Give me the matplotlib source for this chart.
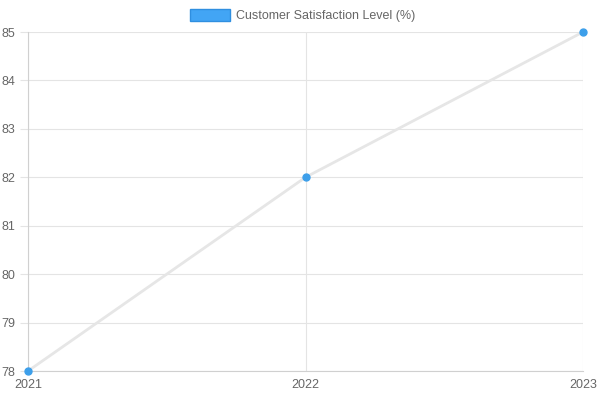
import matplotlib
matplotlib.use("Agg")
import matplotlib.pyplot as plt
import numpy as np
from matplotlib.patches import Rectangle

years = ["2021", "2022", "2023"]
satisfaction = [78, 82, 85]
label = "Customer Satisfaction Level (%)"

plt.rcParams['font.family'] = ['Liberation Sans', 'DejaVu Sans']

fig = plt.figure(figsize=(6, 4), dpi=100)
ax = fig.add_axes([28/600, 1-371/400, (583-28)/600, (371-32)/400])

x = np.arange(len(years), dtype=float)
ax.set_xlim(x[0], x[-1])
ax.set_ylim(78, 85)
ax.set_yticks(range(78, 86))
ax.set_xticks(x)
ax.set_xticklabels(years)

grid_c = "#e4e4e4"
ax.grid(True, color=grid_c, linewidth=0.8)
ax.set_axisbelow(True)
for s in ax.spines.values():
    s.set_visible(False)
ax.spines['left'].set_visible(True)
ax.spines['left'].set_color("#d0d0d0")
ax.spines['bottom'].set_visible(True)
ax.spines['bottom'].set_color("#d0d0d0")
ax.tick_params(colors=grid_c, labelcolor="#666666", labelsize=9, width=0.8)
ax.tick_params(axis='y', length=6, pad=3)
ax.tick_params(axis='x', length=0, pad=6)

ax.plot(x, satisfaction, color="#e6e6e6", linewidth=2, zorder=3, solid_capstyle='round')
ax.plot(x, satisfaction, linestyle='none', marker='o', markersize=5, color="#3d9fea",
        markeredgecolor="#3d9fea", zorder=4, clip_on=False)

# legend
fig.patches.append(Rectangle((190/600, 1-21/400), 40/600, 12/400, transform=fig.transFigure,
                             facecolor="#42a5f5", edgecolor="#2f8fe0", linewidth=1))
fig.text(236/600, 1-15.5/400, label, fontsize=9, color="#666666", va='center', ha='left')

fig.savefig("out.png", dpi=100)
